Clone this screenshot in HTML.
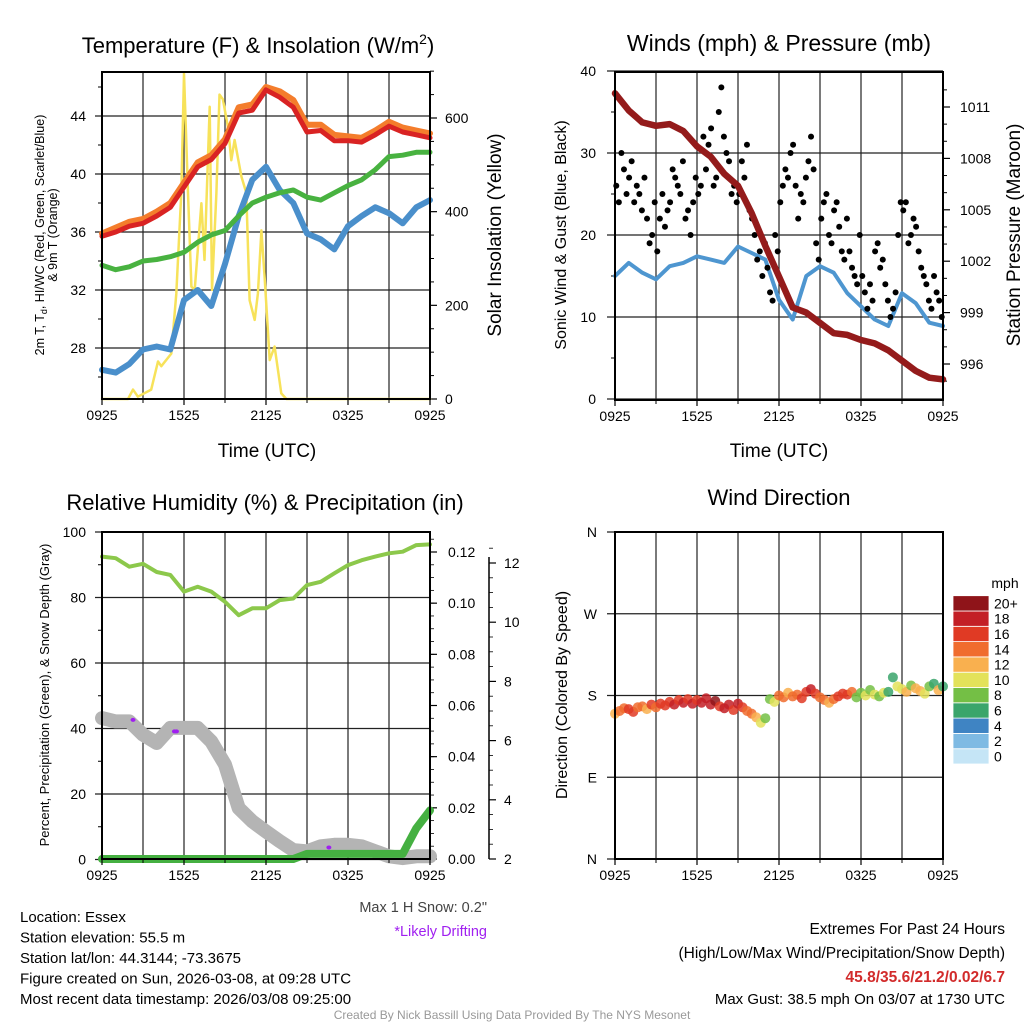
<!DOCTYPE html>
<html><head><meta charset="utf-8"><style>
body{margin:0;background:#fff}
svg{display:block;font-family:"Liberation Sans",sans-serif}
</style></head><body>
<svg id="c" width="1024" height="1024" viewBox="0 0 1024 1024" xmlns="http://www.w3.org/2000/svg"></svg>
<script>
// ---- data ----
const hours = [0,1,2,3,4,5,6,7,8,9,10,11,12,13,14,15,16,17,18,19,20,21,22,23,24];
const xTickLabels = ["0925","1525","2125","0325","0925"];
const tempRed = [35.7,36.0,36.4,36.6,37.1,37.7,39.1,40.5,41.0,42.1,44.2,44.4,45.8,45.3,44.6,42.9,43.0,42.3,42.3,42.2,42.7,43.3,42.9,42.7,42.5];
const tempOrange = [35.9,36.3,36.7,36.9,37.4,38.0,39.4,40.8,41.3,42.4,44.6,44.8,46.0,45.7,45.1,43.4,43.4,42.7,42.6,42.5,43.0,43.6,43.2,43.0,42.8];
const tempGreen = [33.7,33.4,33.6,34.0,34.1,34.3,34.6,35.3,35.8,36.1,37.1,38.0,38.4,38.7,38.9,38.4,38.2,38.7,39.2,39.6,40.3,41.2,41.3,41.5,41.5];
const tempBlue = [26.5,26.3,26.9,27.9,28.1,27.9,31.3,32.0,30.9,33.8,37.1,39.6,40.5,38.9,38.0,35.9,35.5,34.8,36.4,37.1,37.7,37.3,36.6,37.7,38.2];
const solarHours = [0,1.9,2.27,2.63,3.6,4.1,4.34,5.07,5.44,5.8,6.0,6.29,6.54,6.78,7.27,7.5,7.88,8.05,8.37,8.6,8.85,9.22,9.46,9.7,10.2,10.56,10.8,11.17,11.41,11.66,11.9,12.27,12.63,13.12,13.49,24];
const solarValues = [0,0,20,5,20,80,70,97,225,440,695,440,240,233,418,297,624,233,440,650,640,580,510,553,475,440,211,169,225,360,261,83,112,12,0,0];
const tempTicks = [28,32,36,40,44];
const solarTicks = [0,200,400,600];

const pressure = [1011.8,1010.8,1010.1,1009.9,1010.0,1009.6,1008.7,1008.1,1007.1,1006.4,1004.8,1002.9,1001.1,999.3,999.0,998.4,997.8,997.7,997.4,997.2,996.8,996.2,995.6,995.2,995.1];
const windSpeed = [15.0,16.6,15.4,14.6,16.2,16.6,17.4,17.0,16.6,18.6,17.8,17.0,12.1,9.7,15.0,16.2,15.4,12.9,11.3,9.7,8.9,12.9,11.7,9.3,8.9];
const gusts = [26,24,30,28,25,27,29,24,26,25,23,27,22,19,20,24,
18,22,25,21,23,24,28,27,26,25,29,22,23,20,24,27,
25,26,32,28,31,33,26,27,35,38,32,30,29,25,26,24,
25,29,27,31,23,22,20,17,18,15,19,16,13,12,20,18,
24,26,28,27,30,31,26,22,25,24,27,29,32,28,19,17,
22,24,25,20,19,23,24,21,18,17,22,18,16,15,14,20,
15,13,11,14,12,18,19,16,17,14,12,10,11,13,20,24,
23,24,19,20,22,21,18,16,15,14,12,11,15,13,12,10];
const windTicks = [0,10,20,30,40];
const pressTicks = [996,999,1002,1005,1008,1011];

const rh = [92.5,92,89.4,90.3,87.8,86.9,81.8,83.3,81.8,78.7,74.6,76.7,76.7,79.2,79.7,83.8,84.8,87.4,89.9,91.4,92.5,93.5,94,96,96.2];
const snowDepth = [6.76,6.65,6.65,6.2,5.92,6.43,6.43,6.43,5.97,5.19,3.72,3.27,2.93,2.6,2.3,2.26,2.43,2.48,2.48,2.43,2.26,2.09,2.03,2.09,2.09];
const precip = [0,0,0,0,0,0,0,0,0,0,0,0,0,0,0,0.002,0.002,0.002,0.002,0.002,0.002,0.002,0.002,0.012,0.019];
const driftHours = [2.27,5.3,5.45,16.6];
const driftDepth = [6.7,6.31,6.31,2.39];
const rhTicks = [0,20,40,60,80,100];
const precipTicks = [0,0.02,0.04,0.06,0.08,0.10,0.12];
const snowTicks = [2,4,6,8,10,12];

const dirValues = [160,163,166,165,162,167,168,165,170,167,171,169,173,170,175,172,176,171,175,172,177,170,174,168,166,170,164,171,167,163,160,156,150,155,176,173,180,178,183,179,181,177,184,187,182,178,175,172,176,179,182,181,184,178,183,180,186,181,179,183,184,200,190,187,184,191,188,185,182,190,193,186,190];
const dirSpeeds = [13,15,14,16,17,15,15,13,16,14,16,17,17,18,16,18,17,19,17,19,18,18,20,17,19,18,16,19,17,14,14,13,10,8,9,10,14,15,13,15,14,16,17,18,16,14,15,13,15,16,17,16,14,9,9,10,8,10,9,11,7,6,10,11,12,9,13,12,11,8,7,12,7];
const dirTickLabels = ["N","E","S","W","N"];
const dirTicks = [0,90,180,270,360];
const cbLabels = ["0","2","4","6","8","10","12","14","16","18","20+"];
const cbColors = ["#c5e5f6","#7ebae3","#3f84c3","#3aa56b","#74bf45","#e3e25a","#f9b04f","#f06c2e","#e03a24","#c31f26","#8f1419"];

// ---- helpers ----
const NS="http://www.w3.org/2000/svg";
const svg=document.getElementById('c');
function mk(tag, attrs, parent){const e=document.createElementNS(NS,tag);for(const k in attrs)e.setAttribute(k,attrs[k]);(parent||svg).appendChild(e);return e;}
function txt(s,x,y,size,anchor,extra,parent){const t=mk('text',Object.assign({x:x,y:y,'font-size':size,'text-anchor':anchor||'middle',fill:'#000'},extra||{}),parent);t.textContent=s;return t;}
function lin(x1,y1,x2,y2,st,w,parent){return mk('line',{x1:x1,y1:y1,x2:x2,y2:y2,stroke:st||'#000','stroke-width':w||1},parent);}
function poly(xs,ys,color,w,parent){let d='';for(let i=0;i<xs.length;i++)d+=(i?'L':'M')+xs[i].toFixed(1)+' '+ys[i].toFixed(1);return mk('path',{d:d,fill:'none',stroke:color,'stroke-width':w,'stroke-linejoin':'round','stroke-linecap':'round'},parent);}
function lerp(v,d0,d1,p0,p1){return p0+(v-d0)/(d1-d0)*(p1-p0);}

const L={x0:102,x1:430}, R={x0:615,x1:943};
const hx=(P,h)=>lerp(h,0,24,P.x0,P.x1);

function frame(P,y0,y1,name){
  const g=mk('g',{});
  
  
  for(let h=3;h<24;h+=3) lin(hx(P,h),y0,hx(P,h),y1,'#222',1.2,g);
  return g;
}
function xAxis(P,yb,g){
  for(let i=0;i<5;i++){const x=hx(P,i*6);lin(x,yb,x,yb+6,'#000',1.2,g);
    txt(xTickLabels[i],x,yb+21,14,'middle',{},g);}
  for(let h=0;h<=24;h+=3) lin(hx(P,h),yb,hx(P,h),yb+4,'#000',1,g);
}

// ===== Panel 1 =====
{
const y0=72,y1=399;
const ty=v=>lerp(v,28,44,348,116);
const sy=v=>lerp(v,0,600,399,118);
const g=frame(L,y0,y1,'temperature-panel');
tempTicks.forEach(v=>{lin(L.x0-7,ty(v),L.x1,ty(v),'#222',1.2,g);txt(String(v),86,ty(v)+5,14,'end',{},g);});
for(let v=26;v<=46;v+=2) if(v%4) lin(L.x0-4,ty(v),L.x0,ty(v),'#000',1,g);
solarTicks.forEach(v=>{lin(L.x1,sy(v),L.x1+7,sy(v),'#000',1.2,g);txt(String(v),445,sy(v)+5,14,'start',{},g);});
for(let v=50;v<=700;v+=50) if(v%200) lin(L.x1,sy(v),L.x1+4,sy(v),'#000',1,g);
const xs=hours.map(h=>hx(L,h));
const sl=poly(solarHours.map(h=>hx(L,h)),solarValues.map(sy),'#f7e25a',2.5,g);  
const bl=poly(xs,tempBlue.map(ty),'#4a8fcb',6,g);  
const gl=poly(xs,tempGreen.map(ty),'#48b240',5,g);  
const ol=poly(xs,tempOrange.map(ty),'#f47d2c',6,g);  
const rl=poly(xs,tempRed.map(ty),'#d92323',5,g);  
mk('rect',{x:L.x0,y:y0,width:L.x1-L.x0,height:y1-y0,fill:'none',stroke:'#000','stroke-width':2},g);
xAxis(L,y1,g);
const t1=txt('Temperature (F) & Insolation (W/m',258,53,22,'middle',{},g); const sup=mk('tspan',{dy:-9,'font-size':14},t1); sup.textContent='2'; const cl=mk('tspan',{dy:9},t1); cl.textContent=')';
 
txt('Time (UTC)',267,457,19,'middle',{},g);
const yl=txt('2m T, T',0,0,12.5,'middle',{transform:'translate(44,235) rotate(-90)'},g);
const sb=mk('tspan',{dy:3,'font-size':9},yl); sb.textContent='d'; const r2=mk('tspan',{dy:-3},yl); r2.textContent=', HI/WC (Red, Green, Scarlet/Blue)';
 
txt('& 9m T (Orange)',0,0,12.5,'middle',{transform:'translate(57,235) rotate(-90)'},g);
txt('Solar Insolation (Yellow)',0,0,19,'middle',{transform:'translate(501,235) rotate(-90)'},g);
}

// ===== Panel 2 =====
{
const y0=72,y1=400;
const wy=v=>lerp(v,0,40,399,71);
const py=v=>lerp(v,996,1011,364,107);
const g=frame(R,y0,y1,'wind-pressure-panel');
windTicks.forEach(v=>{lin(R.x0-8,wy(v),R.x1,wy(v),'#222',1.2,g);txt(String(v),596,wy(v)+5,14,'end',{},g);});
for(let v=5;v<40;v+=10) lin(R.x0-4,wy(v),R.x0,wy(v),'#000',1,g);
pressTicks.forEach(v=>{lin(R.x1,py(v),R.x1+7,py(v),'#000',1.2,g);txt(String(v),960,py(v)+5,14,'start',{},g);});
for(let v=995;v<=1012;v++) if(pressTicks.indexOf(v)<0) lin(R.x1,py(v),R.x1+4,py(v),'#000',1,g);
const xs=hours.map(h=>hx(R,h));
const wl=poly(xs,windSpeed.map(wy),'#4e96d0',4,g);  
gusts.forEach((v,i)=>{const c=mk('circle',{cx:hx(R,(i+0.5)*24/gusts.length),cy:wy(v),r:3,fill:'#000'},g);
  
  });
const pl=poly(xs,pressure.map(py),'#941b1b',6.5,g);  
mk('rect',{x:R.x0,y:y0,width:R.x1-R.x0,height:y1-y0,fill:'none',stroke:'#000','stroke-width':2},g);
xAxis(R,y1,g);
txt('Winds (mph) & Pressure (mb)',779,51,23,'middle',{},g);
txt('Time (UTC)',779,457,19,'middle',{},g);
txt('Sonic Wind & Gust (Blue, Black)',0,0,16,'middle',{transform:'translate(566,235) rotate(-90)'},g);
txt('Station Pressure (Maroon)',0,0,19,'middle',{transform:'translate(1020,235) rotate(-90)'},g);
}

// ===== Panel 3 =====
{
const y0=532,y1=859;
const ry=v=>lerp(v,0,100,859.5,532);
const qy=v=>lerp(v,0,0.12,859,552);
const dy=v=>lerp(v,2,12,859,563);
const g=frame(L,y0,y1,'humidity-panel');
rhTicks.forEach(v=>{lin(L.x0-7,ry(v),L.x1,ry(v),'#222',1.2,g);txt(String(v),86,ry(v)+5,14,'end',{},g);});
for(let v=10;v<100;v+=20) lin(L.x0-4,ry(v),L.x0,ry(v),'#000',1,g);
precipTicks.forEach(v=>{lin(L.x1,qy(v),L.x1+7,qy(v),'#000',1.2,g);txt(v.toFixed(2),448,qy(v)+5,14,'start',{},g);});
for(let v=0.005;v<0.13;v+=0.005) lin(L.x1,qy(v),L.x1+4,qy(v),'#000',0.8,g);
lin(489,557,489,859,'#000',1.5,g);
snowTicks.forEach(v=>{lin(489,dy(v),496,dy(v),'#000',1.2,g);txt(String(v),504,dy(v)+5,14,'start',{},g);});
for(let v=2.5;v<12.6;v+=0.5) if(v%2) lin(489,dy(v),493,dy(v),'#000',0.8,g);
const xs=hours.map(h=>hx(L,h));
const sd=poly(xs,snowDepth.map(dy),'#b4b4b4',14,g);  
driftHours.forEach((h,i)=>{const d=mk('ellipse',{cx:hx(L,h),cy:dy(driftDepth[i]),rx:2.5,ry:2,fill:'#a020f0'},g);
  
  });
const pr=poly(xs,precip.map(qy),'#45b041',8,g);  
const rl=poly(xs,rh.map(ry),'#8cc84b',4,g);  
mk('rect',{x:L.x0,y:y0,width:L.x1-L.x0,height:y1-y0,fill:'none',stroke:'#000','stroke-width':2},g);
xAxis(L,y1,g);
txt('Relative Humidity (%) & Precipitation (in)',265,510,22,'middle',{},g);
txt('Percent, Precipitation (Green), & Snow Depth (Gray)',0,0,13,'middle',{transform:'translate(49,695) rotate(-90)'},g);
}

// ===== Panel 4 =====
{
const y0=532,y1=859;
const dyy=v=>lerp(v,0,360,859,532);
const g=frame(R,y0,y1,'wind-direction-panel');
dirTicks.forEach((v,i)=>{lin(R.x0-8,dyy(v),R.x1,dyy(v),'#222',1.2,g);txt(dirTickLabels[i],597,dyy(v)+5,14,'end',{},g);});
dirValues.forEach((v,i)=>{const idx=Math.min(10,Math.floor(dirSpeeds[i]/2));
  const c=mk('circle',{cx:hx(R,i/3),cy:dyy(v),r:5,fill:cbColors[idx],'fill-opacity':0.85},g);
  
  });
mk('rect',{x:R.x0,y:y0,width:R.x1-R.x0,height:y1-y0,fill:'none',stroke:'#000','stroke-width':2},g);
xAxis(R,y1,g);
txt('Wind Direction',779,505,22,'middle',{},g);
txt('Direction (Colored By Speed)',0,0,16,'middle',{transform:'translate(567,695) rotate(-90)'},g);
const cb=mk('g',{});


const bh=15.3, cbBottom=764;
cbColors.forEach((col,i)=>{mk('rect',{x:953,y:cbBottom-(i+1)*bh,width:36,height:bh,fill:col,stroke:'#fff','stroke-width':0.8},cb);
  txt(cbLabels[i],994,cbBottom-(i+0.5)*bh+5,14,'start',{},cb);});
txt('mph',1005,588,14,'middle',{},cb);
}

// ===== Footer text =====
{
const g=mk('g',{});


const info=['Location: Essex','Station elevation: 55.5 m','Station lat/lon: 44.3144; -73.3675','Figure created on Sun, 2026-03-08, at 09:28 UTC','Most recent data timestamp: 2026/03/08 09:25:00'];
info.forEach((s,i)=>txt(s,20,922+i*20.5,15,'start',{},g));
txt('Max 1 H Snow: 0.2"',487,912,14.5,'end',{fill:'#444'},g);
txt('*Likely Drifting',487,936,14.5,'end',{fill:'#a020f0'},g);
txt('Extremes For Past 24 Hours',1005,934,15.5,'end',{},g);
txt('(High/Low/Max Wind/Precipitation/Snow Depth)',1005,958,15.5,'end',{},g);
txt('45.8/35.6/21.2/0.02/6.7',1005,982,15.5,'end',{fill:'#d22b2b','font-weight':'bold'},g);
txt('Max Gust: 38.5 mph On 03/07 at 1730 UTC',1005,1004,15,'end',{},g);
txt('Created By Nick Bassill Using Data Provided By The NYS Mesonet',512,1019,12,'middle',{fill:'#999'},g);
}
</script>
</body></html>
